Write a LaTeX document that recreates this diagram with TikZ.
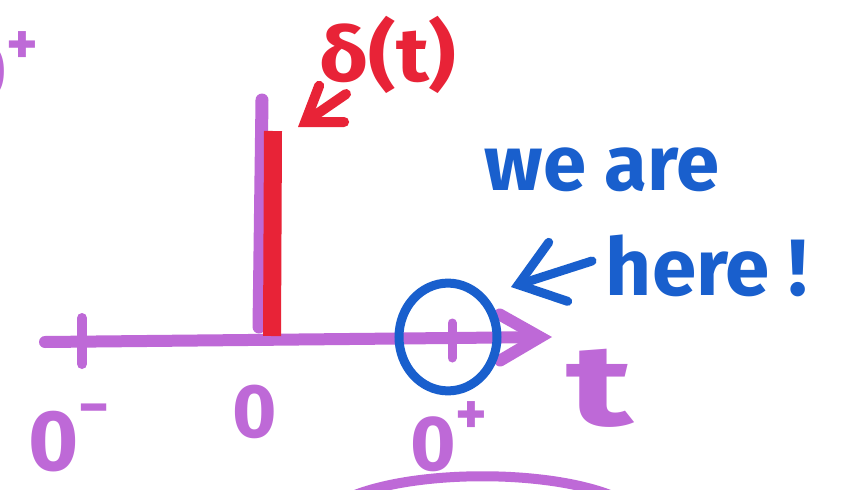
\documentclass[tikz,border=0pt]{standalone}
\usepackage{fontspec}
\setmainfont{Fira Sans}
\usetikzlibrary{arrows.meta}
\definecolor{mpurple}{RGB}{190,105,215}
\definecolor{mred}{RGB}{232,35,55}
\definecolor{mblue}{RGB}{25,95,205}
\tikzset{
  pen/.style={line cap=round, line join=round},
  purp/.style={pen, draw=mpurple},
  redpen/.style={pen, draw=mred},
  bluepen/.style={pen, draw=mblue},
  lbl/.style={inner sep=0pt, font=\bfseries},
}
\newcommand{\fsz}[1]{\fontsize{#1}{#1}\selectfont}
\begin{document}
\begin{tikzpicture}[x=1pt,y=-1pt]
\useasboundingbox (0,0) rectangle (844,490);
\clip (0,0) rectangle (844,490);
\fill[white] (0,0) rectangle (844,490);
% top-left cropped 0+
\node[lbl, text=mpurple, anchor=base west] (tl) at (-40,98) {\fsz{80}0\raisebox{0.42em}{\fsz{60}+}};
% axis
\coordinate (axL) at (45,342);
\coordinate (axR) at (552,337);
\draw[purp, line width=12pt, -{Straight Barb[length=40pt,width=46pt,line cap=round]}] (axL) -- (axR);
% ticks
\coordinate (tk1a) at (82,318); \coordinate (tk1b) at (82,364);
\draw[purp, line width=10pt] (tk1a) -- (tk1b);
\coordinate (tk2a) at (452,323); \coordinate (tk2b) at (452,358);
\draw[purp, line width=9pt] (tk2a) -- (tk2b);
% impulse (purple)
\coordinate (impTop) at (262,100); \coordinate (impBot) at (259,327);
\draw[purp, line width=13pt] (impTop) -- (impBot);
% red delta bar
\coordinate (redTop) at (273,131); \coordinate (redBot) at (272,336);
\draw[redpen, line width=18pt, line cap=butt] (redTop) -- (redBot);
% delta label and arrow
\node[lbl, text=mred, xscale=1.12] (delta) at (388,55) {\fsz{76}δ(t)};
\coordinate (redTail) at (346,94);
\coordinate (redTip) at (298,127);
\draw[redpen, line width=10pt, -{Straight Barb[length=32pt,width=44pt,line cap=round]}] (redTail) -- (redTip);
% blue text
\node[lbl, text=mblue] (weare) at (602,170) {\fsz{78}we are};
\node[lbl, text=mblue] (here) at (707,266) {\fsz{80}here !};
\coordinate (blueTail) at (592,261);
\coordinate (blueTip) at (511,287);
\draw[bluepen, line width=9pt, -{Straight Barb[length=42pt,width=62pt,line cap=round]}] (blueTail) -- (blueTip);
% blue circle
\node[draw=mblue, line width=9pt, circle, inner sep=0pt, minimum size=98pt, yscale=1.1] (circ) at (448,337) {};
% axis labels
\node[lbl, text=mpurple, anchor=base west] (zm) at (28,470) {\fsz{86}0\raisebox{0.5em}{\fsz{60}−}};
\node[lbl, text=mpurple] (zero) at (255,412) {\fsz{76}0};
\node[lbl, text=mpurple, anchor=base west] (zp) at (410,470) {\fsz{78}0\raisebox{0.45em}{\fsz{60}+}};
\node[lbl, text=mpurple, anchor=base, xscale=1.5] (tlab) at (600,425) {\fsz{115}t};
% bottom arc
\coordinate (arcL) at (355,495); \coordinate (arcR) at (610,495);
\draw[purp, line width=10pt] (arcL) .. controls (420,470) and (545,470) .. (arcR);
\end{tikzpicture}
\end{document}
